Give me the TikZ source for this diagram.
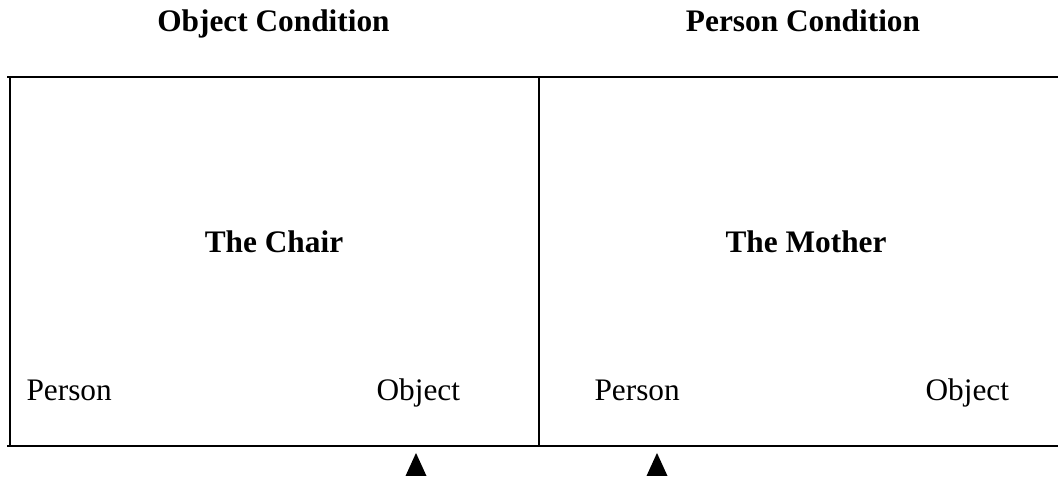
\documentclass[tikz,border=0pt]{standalone}
\usepackage{fontspec}
\setmainfont{Liberation Serif}
\usepackage{tikz}
\usetikzlibrary{positioning}

\begin{document}
\begin{tikzpicture}[
    x=0.3831pt, y=-0.3831pt,
    every node/.style={font=\fontsize{12}{14}\selectfont, inner sep=0pt},
    heading/.style={font=\fontsize{12}{14}\selectfont\bfseries, anchor=base},
    cornertext/.style={anchor=base west},
    frame/.style={line width=0.77pt},
    divider/.style={line width=0.5pt},
    pointer/.style={fill=black}
]
\useasboundingbox (0,0) rectangle (1058,480);

% frame corners
\coordinate (tl) at (7,77);
\coordinate (tr) at (1058,77);
\coordinate (bl) at (7,446);
\coordinate (br) at (1058,446);
\coordinate (lt) at (10,77);
\coordinate (lb) at (10,446);
\coordinate (mt) at (539,77);
\coordinate (mb) at (539,446);

% condition titles
\node[heading] (objcond) at (273.5,32) {Object Condition};
\node[heading] (percond) at (803,32) {Person Condition};

% frame
\draw[frame] (tl) -- (tr);
\draw[frame] (bl) -- (br);
\draw[frame] (lt) -- (lb);
\draw[divider] (mt) -- (mb);

% items in the middle
\node[heading] (chair) at (274,253) {The Chair};
\node[heading] (mother) at (806,253) {The Mother};

% choices at the bottom
\node[cornertext] (lperson) at (26,401) {Person};
\node[cornertext] (lobject) at (376,401) {Object};
\node[cornertext] (rperson) at (594,401) {Person};
\node[cornertext] (robject) at (925,401) {Object};

% pointers
\coordinate (p1) at (416,453);
\coordinate (p2) at (657,453);
\fill[pointer] (p1) -- ++(10.5,23) -- ++(-21,0) -- cycle;
\fill[pointer] (p2) -- ++(10.5,23) -- ++(-21,0) -- cycle;

\end{tikzpicture}
\end{document}
